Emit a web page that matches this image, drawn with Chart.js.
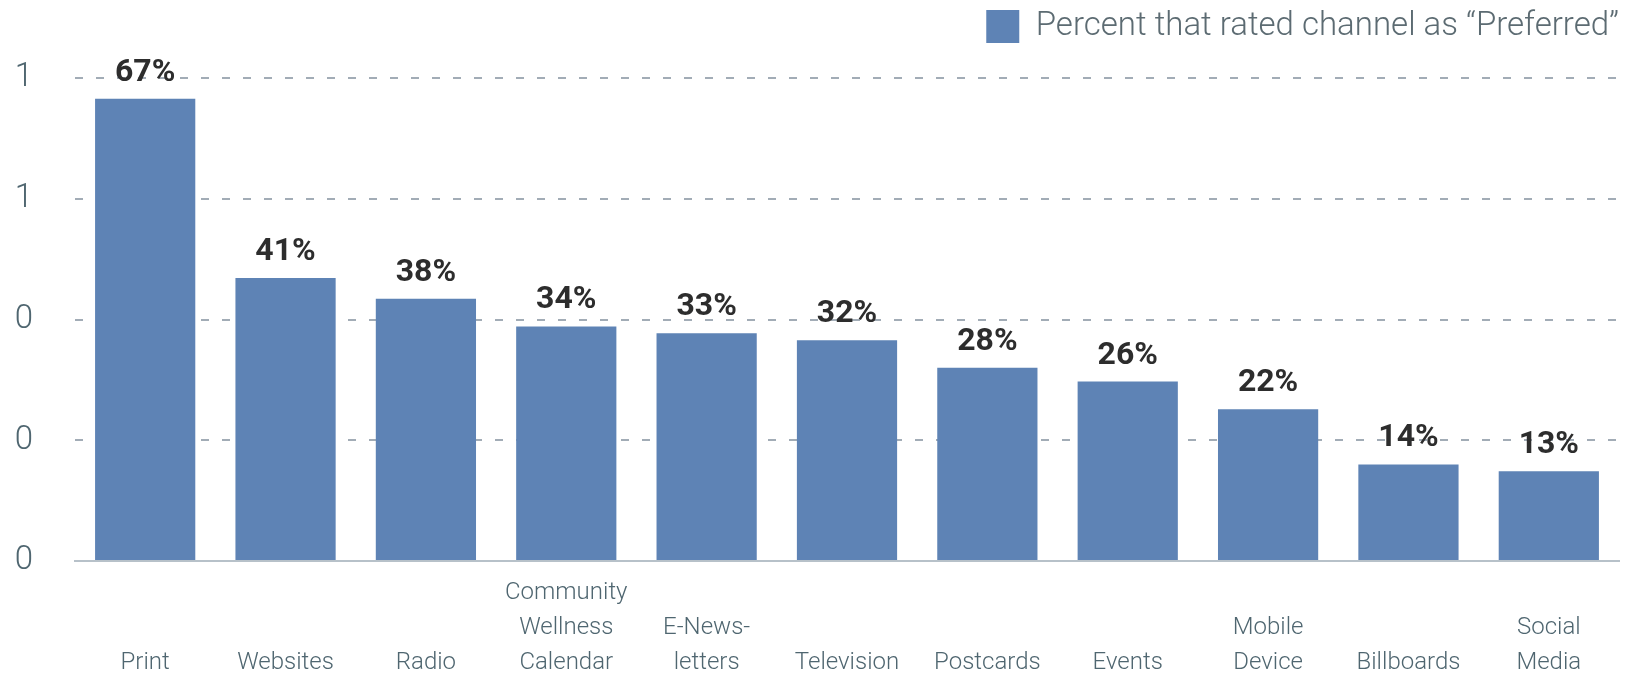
<!DOCTYPE html>
<html>
<head>
<meta charset="utf-8">
<script src="https://cdn.jsdelivr.net/npm/chart.js@4/dist/chart.umd.min.js"></script>
<style>
  html, body { margin: 0; padding: 0; background: #ffffff; }
  #wrap { width: 1625px; height: 673px; position: relative; }
</style>
</head>
<body>
<div id="wrap"><canvas id="c" width="1625" height="673"></canvas></div>
<script>
const categories = [
  ["Print"], ["Websites"], ["Radio"], ["Community", "Wellness", "Calendar"],
  ["E-News-", "letters"], ["Television"], ["Postcards"], ["Events"],
  ["Mobile", "Device"], ["Billboards"], ["Social", "Media"]
];
const seriesName = "Percent that rated channel as \u201cPreferred\u201d";
const preferred = [0.67, 0.41, 0.38, 0.34, 0.33, 0.32, 0.28, 0.26, 0.22, 0.14, 0.13];
const yMin = 0, yMax = 0.7, yStep = 0.175;

const barColor = '#5e83b5';
const FONT = 'Roboto, "Open Sans", sans-serif';

const valueLabels = {
  id: 'valueLabels',
  afterDatasetsDraw(chart) {
    const ctx = chart.ctx;
    const meta = chart.getDatasetMeta(0);
    ctx.save();
    ctx.font = '700 32px ' + FONT;
    ctx.fillStyle = '#2d2d2d';
    ctx.textAlign = 'center';
    ctx.textBaseline = 'alphabetic';
    meta.data.forEach((bar, i) => {
      const v = chart.data.datasets[0].data[i];
      ctx.fillText(Math.round(v * 100) + '%', bar.x, bar.y - 18);
    });
    ctx.restore();
  }
};

const legendHeight = {
  id: 'legendHeight',
  beforeInit(chart) {
    const lg = chart.legend;
    if (!lg) return;
    const orig = lg.fit;
    lg.fit = function () {
      orig.apply(this, arguments);
      this.height = 78;
    };
  },
  afterLayout(chart) {
    const lg = chart.legend;
    if (!lg) return;
    lg.left += 10;
    lg.right += 10;
  }
};

new Chart(document.getElementById('c'), {
  type: 'bar',
  data: {
    labels: categories,
    datasets: [{
      label: seriesName,
      data: preferred,
      backgroundColor: barColor,
      borderWidth: 0,
      barPercentage: 0.714,
      categoryPercentage: 1.0
    }]
  },
  options: {
    responsive: false,
    animation: false,
    devicePixelRatio: 1,
    layout: { padding: { left: 14, right: 6, top: 0, bottom: 0 } },
    plugins: {
      legend: {
        display: true,
        position: 'top',
        align: 'end',
        labels: {
          boxWidth: 33,
          boxHeight: 33,
          color: '#5c6b72',
          font: { family: FONT, size: 33, weight: '300' },
          padding: 10
        }
      },
      tooltip: { enabled: false }
    },
    scales: {
      x: {
        grid: { display: false, drawTicks: false },
        border: { display: true, color: '#b7c1c9', width: 2 },
        afterFit: (s) => { s.height = 112; },
        ticks: {
          color: '#4f6670',
          font: { family: FONT, size: 24, weight: '300', lineHeight: 1.45 },
          padding: 15,
          maxRotation: 0,
          autoSkip: false,
          callback: function (value) {
            const lines = this.getLabelForValue(value);
            const arr = Array.isArray(lines) ? lines.slice() : [lines];
            while (arr.length < 3) arr.unshift('');
            return arr;
          }
        }
      },
      y: {
        min: yMin,
        max: yMax,
        afterFit: (s) => { s.width = 61; },
        grid: {
          drawTicks: false,
          color: (c) => c.tick && c.tick.value === 0 ? 'rgba(0,0,0,0)' : '#a2acb6',
          lineWidth: 2
        },
        border: { display: false, dash: [8, 13] },
        ticks: {
          stepSize: yStep,
          padding: 42,
          color: '#4f6670',
          font: { family: FONT, size: 33, weight: '300' },
          callback: (v) => String(Math.round(v))
        }
      }
    }
  },
  plugins: [valueLabels, legendHeight]
});
</script>
</body>
</html>
